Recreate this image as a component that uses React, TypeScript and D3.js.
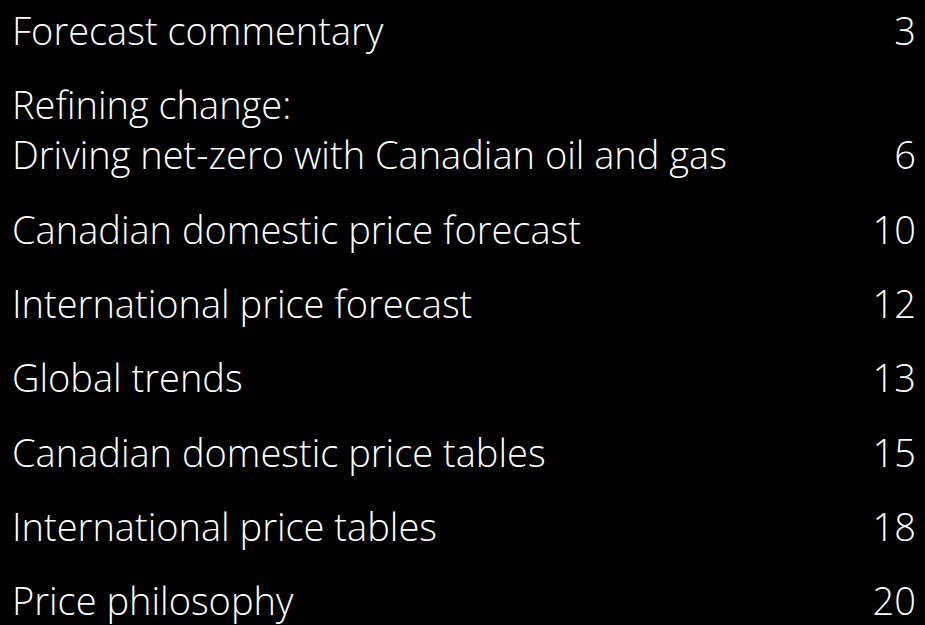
import React from "react";
import * as d3 from "d3";

const titles: string[][] = [
  ["Forecast commentary"],
  ["Refining change:", "Driving net-zero with Canadian oil and gas"],
  ["Canadian domestic price forecast"],
  ["International price forecast"],
  ["Global trends"],
  ["Canadian domestic price tables"],
  ["International price tables"],
  ["Price philosophy"],
];
const pages: string[] = ["3", "6", "10", "12", "13", "15", "18", "20"];

const W = 925;
const H = 625;

export default function App() {
  const entryGap = 74.3;
  const lineGap = 50.5;
  const firstBaseline = 44.5;
  const rows: { lines: string[]; page: string; y: number }[] = [];
  let y = firstBaseline;
  titles.forEach((t, i) => {
    rows.push({ lines: t, page: pages[i], y });
    y += (t.length - 1) * lineGap + entryGap;
  });
  const x = d3.scaleLinear().domain([0, 1]).range([12, 916]);
  return (
    <svg width={W} height={H} style={{ position: "absolute", left: 0, top: 0, background: "#000" }}>
      <rect width={W} height={H} fill="#000" />
      <g fontFamily="'Open Sans', sans-serif" fontSize={38} fontWeight={300} fill="#fff">
        {rows.map((r, i) => (
          <g key={i}>
            {r.lines.map((l, j) => (
              <text key={j} x={x(0)} y={r.y + j * lineGap}>{l}</text>
            ))}
            <text x={x(1)} y={r.y + (r.lines.length - 1) * lineGap} textAnchor="end">{r.page}</text>
          </g>
        ))}
      </g>
    </svg>
  );
}
